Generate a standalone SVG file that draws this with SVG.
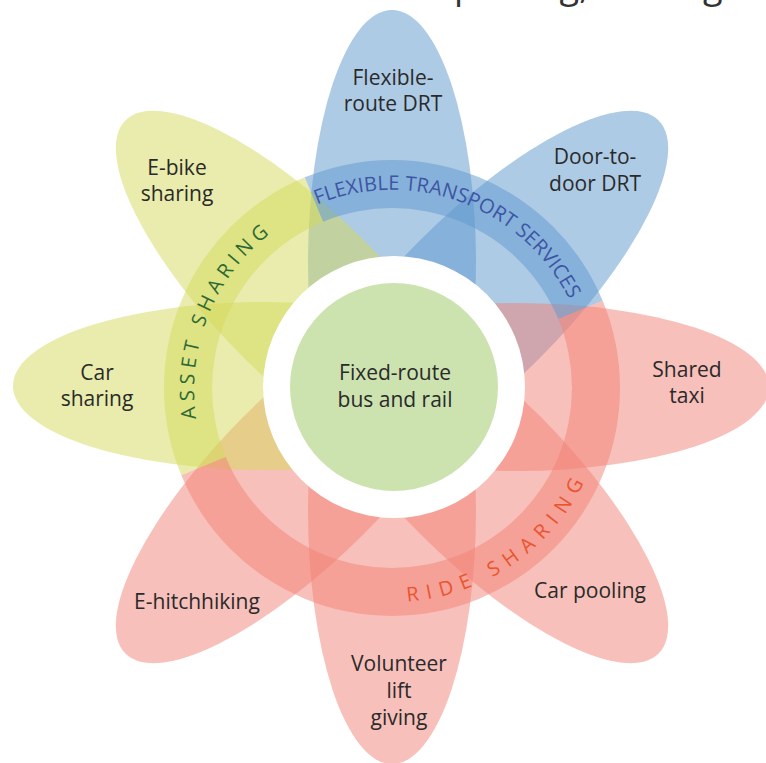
<svg xmlns="http://www.w3.org/2000/svg" width="766" height="763" viewBox="0 0 766 763">
  <defs>
    <style>
      .lbl { font-family: "Open Sans", "Noto Sans", "Liberation Sans", sans-serif; font-size: 21px; fill: #2a2a2a; text-anchor: middle; }
      .arc { font-family: "Open Sans", "Noto Sans", "Liberation Sans", sans-serif; font-size: 20px; }
      .pb { fill: #5d97cd; fill-opacity: 0.5; }
      .pr { fill: #f18175; fill-opacity: 0.5; }
      .pg { fill: #d3d959; fill-opacity: 0.5; }
    </style>
    <path id="arcBlue" d="M309.0,208.1 A198,198 0 0,1 573.0,307.5" fill="none"/>
    <path id="arcGreen" d="M197.4,425.6 A198,198 0 0,1 279.1,226.8" fill="none"/>
    <path id="arcRed" d="M392,602 A214,214 0 0,0 593.1,461.2" fill="none"/>
  </defs>
  <rect width="766" height="763" fill="#ffffff"/>

  <text x="454" y="-2" style="font-family: 'Open Sans', 'Liberation Sans', sans-serif; font-size: 36px; fill: #333333;">pooling, sharing</text>

  <g id="petal-flexible-route">
    <ellipse class="pb" cx="0" cy="0" rx="253" ry="84" transform="translate(392,263) rotate(90)"/>
  </g>
  <g id="petal-door-to-door">
    <ellipse class="pb" cx="0" cy="0" rx="253" ry="84" transform="translate(479.7,299.3) rotate(-45)"/>
  </g>
  <g id="petal-shared-taxi">
    <ellipse class="pr" cx="0" cy="0" rx="253" ry="84" transform="translate(516,387)"/>
  </g>
  <g id="petal-car-pooling">
    <ellipse class="pr" cx="0" cy="0" rx="253" ry="84" transform="translate(479.7,474.7) rotate(45)"/>
  </g>
  <g id="petal-volunteer">
    <ellipse class="pr" cx="0" cy="0" rx="253" ry="84" transform="translate(392,511) rotate(90)"/>
  </g>
  <g id="petal-e-hitchhiking">
    <ellipse class="pr" cx="0" cy="0" rx="253" ry="84" transform="translate(304.3,474.7) rotate(-45)"/>
  </g>
  <g id="petal-car-sharing">
    <ellipse class="pg" cx="0" cy="0" rx="253" ry="84" transform="translate(266,386)"/>
  </g>
  <g id="petal-e-bike">
    <ellipse class="pg" cx="0" cy="0" rx="253" ry="84" transform="translate(304.3,299.3) rotate(45)"/>
  </g>

  <g id="ring">
    <path class="pg" d="M181.36,475.25 A228,228 0 0,1 304.75,177.36 L323.12,221.70 A180,180 0 0,0 225.70,456.88 Z"/>
    <path class="pb" d="M304.75,177.36 A228,228 0 0,1 602.64,300.75 L558.30,319.12 A180,180 0 0,0 323.12,221.70 Z"/>
    <path class="pr" d="M602.64,300.75 A228,228 0 0,1 479.25,598.65 A228,228 0 0,1 181.36,475.25 L225.70,456.88 A180,180 0 0,0 460.88,554.30 A180,180 0 0,0 558.30,319.12 Z"/>
  </g>

  <g id="center">
    <circle cx="394" cy="387" r="131" fill="#ffffff"/>
    <circle cx="394" cy="387" r="104" fill="#cce3b0"/>
    <text class="lbl" x="395" y="380">Fixed-route</text>
    <text class="lbl" x="395" y="407">bus and rail</text>
  </g>

  <g id="ring-labels">
    <text class="arc" fill="#3d55a5" font-size="19" letter-spacing="0.1"><textPath href="#arcBlue" startOffset="50%" text-anchor="middle">FLEXIBLE TRANSPORT SERVICES</textPath></text>
    <text class="arc" fill="#2d6a36" letter-spacing="5"><textPath href="#arcGreen" startOffset="50%" text-anchor="middle">ASSET SHARING</textPath></text>
    <text class="arc" fill="#ea5530" letter-spacing="8"><textPath href="#arcRed" startOffset="50%" text-anchor="middle">RIDE SHARING</textPath></text>
  </g>

  <g id="labels">
    <text class="lbl" x="393" y="85">Flexible-</text>
    <text class="lbl" x="393" y="111">route DRT</text>
    <text class="lbl" x="595" y="164">Door-to-</text>
    <text class="lbl" x="595" y="191">door DRT</text>
    <text class="lbl" x="177" y="175">E-bike</text>
    <text class="lbl" x="177" y="201">sharing</text>
    <text class="lbl" x="97" y="380">Car</text>
    <text class="lbl" x="97" y="406">sharing</text>
    <text class="lbl" x="687" y="377">Shared</text>
    <text class="lbl" x="687" y="403">taxi</text>
    <text class="lbl" x="197" y="609">E-hitchhiking</text>
    <text class="lbl" x="590" y="598">Car pooling</text>
    <text class="lbl" x="399" y="671">Volunteer</text>
    <text class="lbl" x="399" y="698">lift</text>
    <text class="lbl" x="399" y="725">giving</text>
  </g>
</svg>
